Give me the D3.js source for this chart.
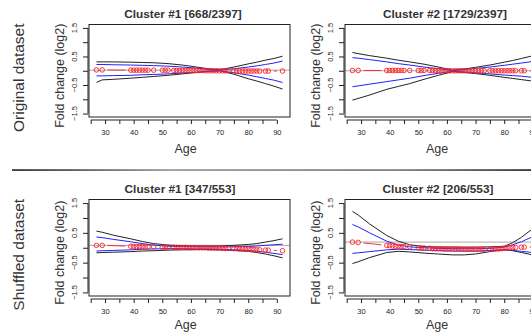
<!DOCTYPE html>
<html>
<head>
<meta charset="utf-8">
<script src="https://cdn.jsdelivr.net/npm/d3@7"></script>
<style>
  body { margin: 0; background: #fff; }
  text { font-family: "Liberation Sans", Arial, sans-serif; fill: #222; }
</style>
</head>
<body>
<div id="chart"></div>
<script>
// ages of the samples (red points)
var ages = [27, 29, 39, 40, 41, 42, 43, 44, 45, 47, 50, 51, 52, 54, 55, 56, 57, 58, 59, 60, 61, 62, 63, 64, 65, 66, 67, 68, 69, 70, 71, 72, 73, 75, 76, 77, 78, 79, 80, 81, 82, 83, 84, 86, 87, 92];

// mean fold change per age, one array per panel
var fcOrig1 = [0.03, 0.03, 0.02, 0.02, 0.02, 0.02, 0.02, 0.02, 0.02, 0.02, 0.02, 0.02, 0.02, 0.01, 0.01, 0.01, 0.01, 0.01, 0.01, 0.01, 0.01, 0.01, 0.01, 0.01, 0.0, 0.0, 0.0, 0.0, 0.0, 0.0, 0.0, 0.0, 0.0, -0.01, -0.01, -0.01, -0.01, -0.01, -0.01, -0.01, -0.01, -0.01, -0.01, -0.01, -0.01, -0.01];
var fcOrig2 = [0.01, 0.01, 0.01, 0.01, 0.01, 0.01, 0.01, 0.01, 0.01, 0.01, 0.01, 0.01, 0.01, 0.01, 0.01, 0.01, 0.01, 0.0, 0.0, 0.0, 0.0, 0.0, 0.0, 0.0, 0.0, 0.0, 0.0, 0.0, 0.0, 0.0, 0.0, 0.0, 0.0, 0.0, 0.0, 0.0, 0.0, 0.0, 0.0, 0.0, 0.0, 0.0, 0.0, 0.0, 0.0, 0.0];
var fcShuf1 = [0.08, 0.08, 0.05, 0.05, 0.04, 0.04, 0.04, 0.03, 0.03, 0.03, 0.02, 0.02, 0.02, 0.01, 0.01, 0.01, 0.01, 0.01, 0.0, 0.0, 0.0, 0.0, 0.0, 0.0, 0.0, -0.01, -0.01, -0.01, -0.01, -0.01, -0.02, -0.02, -0.02, -0.03, -0.03, -0.04, -0.04, -0.05, -0.05, -0.06, -0.06, -0.07, -0.07, -0.08, -0.08, -0.10];
var fcShuf2 = [0.19, 0.18, 0.08, 0.07, 0.06, 0.05, 0.05, 0.04, 0.04, 0.03, 0.0, -0.01, -0.01, -0.02, -0.03, -0.03, -0.03, -0.03, -0.04, -0.04, -0.04, -0.04, -0.04, -0.04, -0.05, -0.05, -0.05, -0.05, -0.05, -0.05, -0.05, -0.05, -0.05, -0.05, -0.05, -0.04, -0.04, -0.03, -0.02, -0.01, 0.0, 0.01, 0.01, 0.02, 0.02, 0.03];

// reference level (grey line) per panel
var baseLevel = [0.02, 0.0, 0.08, 0.19];

// ages where the band curves are given
var knots = [27, 29, 33, 39, 43, 47, 52, 57, 62, 66, 70, 75, 80, 83, 86, 89, 92];

var blackHiOrig1 = [0.31, 0.31, 0.31, 0.30, 0.29, 0.28, 0.25, 0.20, 0.13, 0.07, 0.03, 0.13, 0.24, 0.30, 0.37, 0.43, 0.51];
var blackLoOrig1 = [-0.41, -0.32, -0.30, -0.26, -0.23, -0.20, -0.16, -0.11, -0.06, -0.02, 0.00, -0.12, -0.28, -0.36, -0.45, -0.54, -0.64];
var blueHiOrig1 = [0.22, 0.22, 0.21, 0.20, 0.19, 0.18, 0.16, 0.13, 0.09, 0.05, 0.03, 0.07, 0.13, 0.17, 0.22, 0.27, 0.34];
var blueLoOrig1 = [-0.18, -0.18, -0.17, -0.16, -0.14, -0.13, -0.11, -0.08, -0.05, -0.02, 0.00, -0.07, -0.15, -0.21, -0.27, -0.33, -0.41];

var blackHiOrig2 = [0.64, 0.60, 0.53, 0.44, 0.37, 0.31, 0.23, 0.13, 0.02, 0.06, 0.12, 0.20, 0.30, 0.36, 0.43, 0.50, 0.58];
var blackLoOrig2 = [-1.03, -0.97, -0.85, -0.65, -0.55, -0.45, -0.30, -0.16, -0.03, -0.06, -0.10, -0.16, -0.23, -0.27, -0.31, -0.35, -0.40];
var blueHiOrig2 = [0.46, 0.44, 0.39, 0.31, 0.25, 0.20, 0.13, 0.07, 0.01, 0.04, 0.08, 0.13, 0.19, 0.23, 0.27, 0.31, 0.37];
var blueLoOrig2 = [-0.56, -0.53, -0.47, -0.38, -0.32, -0.26, -0.17, -0.09, -0.02, -0.04, -0.07, -0.11, -0.15, -0.17, -0.19, -0.22, -0.26];

var blackHiShuf1 = [0.56, 0.52, 0.42, 0.30, 0.21, 0.14, 0.09, 0.07, 0.06, 0.06, 0.06, 0.08, 0.11, 0.14, 0.19, 0.24, 0.30];
var blackLoShuf1 = [-0.17, -0.16, -0.15, -0.13, -0.11, -0.10, -0.08, -0.07, -0.06, -0.06, -0.07, -0.09, -0.12, -0.16, -0.21, -0.27, -0.34];
var blueHiShuf1 = [0.36, 0.34, 0.28, 0.20, 0.14, 0.09, 0.05, 0.04, 0.03, 0.03, 0.03, 0.03, 0.04, 0.06, 0.08, 0.10, 0.12];
var blueLoShuf1 = [-0.11, -0.10, -0.09, -0.07, -0.05, -0.04, -0.03, -0.03, -0.04, -0.04, -0.05, -0.07, -0.09, -0.12, -0.15, -0.19, -0.23];

var blackHiShuf2 = [1.22, 1.10, 0.80, 0.41, 0.22, 0.10, 0.04, 0.02, 0.02, 0.02, 0.02, 0.03, 0.05, 0.17, 0.35, 0.57, 0.75];
var blackLoShuf2 = [-0.53, -0.47, -0.33, -0.16, -0.12, -0.14, -0.18, -0.21, -0.24, -0.24, -0.21, -0.13, -0.06, -0.10, -0.16, -0.22, -0.28];
var blueHiShuf2 = [0.78, 0.70, 0.50, 0.22, 0.09, 0.03, 0.00, -0.02, -0.03, -0.03, -0.03, -0.02, 0.02, 0.10, 0.20, 0.33, 0.45];
var blueLoShuf2 = [-0.19, -0.17, -0.13, -0.07, -0.05, -0.06, -0.08, -0.10, -0.11, -0.11, -0.11, -0.09, -0.07, -0.09, -0.12, -0.15, -0.19];

var titles = ["Cluster #1 [668/2397]", "Cluster #2 [1729/2397]", "Cluster #1 [347/553]", "Cluster #2 [206/553]"];
var rowLabels = ["Original dataset", "Shuffled dataset"];
var xTicks = [25, 30, 35, 40, 45, 50, 55, 60, 65, 70, 75, 80, 85, 90];
var yTicks = [-1.5, -1, -0.5, 0, 0.5, 1, 1.5];
var yLabelled = [-1.5, -0.5, 0.5, 1.5];

const width = 531, height = 333;
var colLeft = [89, 345];
var boxW = 201;
var rowTop = [24.5, 199.5];
var rowBottom = [117, 296];
var titleX = [94, 100, 91, 93];   // title centre, from box left
var ageX = [96.5, 92];

var svg = d3.select("#chart").append("svg")
  .attr("width", width)
  .attr("height", height);

// separator between the two rows
var grad = svg.append("defs").append("linearGradient")
  .attr("id", "sep").attr("x1", "0%").attr("x2", "100%");
grad.append("stop").attr("offset", "0%").attr("stop-color", "#111");
grad.append("stop").attr("offset", "10%").attr("stop-color", "#333");
grad.append("stop").attr("offset", "30%").attr("stop-color", "#888");
grad.append("stop").attr("offset", "75%").attr("stop-color", "#666");
grad.append("stop").attr("offset", "100%").attr("stop-color", "#111");
svg.append("rect")
  .attr("x", 12).attr("y", 169.3)
  .attr("width", width - 12).attr("height", 1.5)
  .attr("fill", "url(#sep)");

// row labels
rowLabels.forEach(function(t, r) {
  var cy = (rowTop[r] + rowBottom[r]) / 2 + 7;
  svg.append("text")
    .attr("transform", "translate(24," + cy + ") rotate(-90)")
    .attr("text-anchor", "middle")
    .style("font-size", "15.5px")
    .style("fill", "#333")
    .text(t);
});

var panels = [
  {fc: fcOrig1, bh: blackHiOrig1, bl: blackLoOrig1, uh: blueHiOrig1, ul: blueLoOrig1},
  {fc: fcOrig2, bh: blackHiOrig2, bl: blackLoOrig2, uh: blueHiOrig2, ul: blueLoOrig2},
  {fc: fcShuf1, bh: blackHiShuf1, bl: blackLoShuf1, uh: blueHiShuf1, ul: blueLoShuf1},
  {fc: fcShuf2, bh: blackHiShuf2, bl: blackLoShuf2, uh: blueHiShuf2, ul: blueLoShuf2}
];

panels.forEach(function(p, i) {
  var r = Math.floor(i / 2), c = i % 2;
  var left = colLeft[c], top = rowTop[r], bottom = rowBottom[r];

  var x_scale = d3.scaleLinear().domain([24.4, 94.6]).range([left, left + boxW]);
  var y_scale = d3.scaleLinear().domain([-1.62, 1.62]).range([bottom, top]);

  var g = svg.append("g");
  var clipId = "clip" + i;
  g.append("clipPath").attr("id", clipId).append("rect")
    .attr("x", left).attr("y", top).attr("width", boxW).attr("height", bottom - top);
  var plot = g.append("g").attr("clip-path", "url(#" + clipId + ")");

  // grey reference line
  plot.append("line")
    .attr("x1", left).attr("x2", left + boxW)
    .attr("y1", y_scale(baseLevel[i])).attr("y2", y_scale(baseLevel[i]))
    .attr("stroke", "#aaa").attr("stroke-width", 1);

  var line = d3.line().x((d, k) => x_scale(knots[k])).y(d => y_scale(d));
  [[p.bh, "#222"], [p.bl, "#222"], [p.uh, "#2020ff"], [p.ul, "#2020ff"]].forEach(function(s) {
    plot.append("path")
      .attr("d", line(s[0]))
      .attr("fill", "none")
      .attr("stroke", s[1])
      .attr("stroke-width", 1);
  });

  // red points, type "b" lines with gaps round the points
  var pts = ages.map((a, k) => [x_scale(a), y_scale(p.fc[k])]);
  var gap = 5.5;
  for (var k = 0; k < pts.length - 1; k++) {
    var a = pts[k], b = pts[k + 1];
    var dx = b[0] - a[0], dy = b[1] - a[1];
    var dist = Math.sqrt(dx * dx + dy * dy);
    if (dist <= 2 * gap) continue;
    var ux = dx / dist, uy = dy / dist;
    plot.append("line")
      .attr("x1", a[0] + ux * gap).attr("y1", a[1] + uy * gap)
      .attr("x2", b[0] - ux * gap).attr("y2", b[1] - uy * gap)
      .attr("stroke", "#ff2020").attr("stroke-width", 0.9);
  }
  plot.selectAll("circle.pt")
    .data(pts)
    .join("circle")
    .attr("class", "pt")
    .attr("cx", d => d[0])
    .attr("cy", d => d[1])
    .attr("r", 2.3)
    .attr("fill", "none")
    .attr("stroke", "#ff2020")
    .attr("stroke-width", 0.9);

  // box
  g.append("rect")
    .attr("x", left).attr("y", top)
    .attr("width", boxW).attr("height", bottom - top)
    .attr("fill", "none").attr("stroke", "#222").attr("stroke-width", 1);

  // x axis
  var xa = g.append("g")
    .attr("transform", "translate(0," + (bottom + 3) + ")")
    .call(d3.axisBottom(x_scale).tickValues(xTicks).tickSize(4).tickPadding(6)
      .tickFormat(d => d % 10 === 0 ? d : ""));
  xa.select(".domain").remove();
  xa.append("line")
    .attr("x1", x_scale(25)).attr("x2", x_scale(90))
    .attr("stroke", "#222");
  xa.selectAll(".tick line").attr("stroke", "#222");
  xa.selectAll(".tick text").style("font-size", "7.5px").style("fill", "#222")
    .attr("font-family", null);

  g.append("text")
    .attr("x", left + ageX[c]).attr("y", bottom + (r === 0 ? 36 : 32.5))
    .attr("text-anchor", "middle")
    .style("font-size", "12.5px")
    .style("fill", "#333")
    .text("Age");

  // y axis
  var ya = g.append("g")
    .attr("transform", "translate(" + (left - 1) + ",0)")
    .call(d3.axisLeft(y_scale).tickValues(yTicks).tickSize(5).tickFormat(""));
  ya.select(".domain").remove();
  ya.append("line")
    .attr("y1", y_scale(-1.5)).attr("y2", y_scale(1.5))
    .attr("stroke", "#222");
  ya.selectAll(".tick line").attr("stroke", "#222");
  yLabelled.forEach(function(v) {
    g.append("text")
      .attr("transform", "translate(" + (left - 12.5) + "," + y_scale(v) + ") rotate(-90)")
      .attr("text-anchor", "middle")
      .style("font-size", "7.5px")
      .text(v === 0.5 ? "0.5" : v === -0.5 ? "\u22120.5" : v === 1.5 ? "1.5" : "\u22121.5");
  });

  g.append("text")
    .attr("transform", "translate(" + (left - 25.5) + "," + ((top + bottom) / 2 + 5) + ") rotate(-90)")
    .attr("text-anchor", "middle")
    .style("font-size", "12.5px")
    .style("fill", "#333")
    .text("Fold change (log2)");

  // title
  g.append("text")
    .attr("x", left + titleX[i]).attr("y", top - 6.5)
    .attr("text-anchor", "middle")
    .style("font-size", "11.8px")
    .style("font-weight", "bold")
    .style("fill", "#333")
    .text(titles[i]);
});
</script>
</body>
</html>
